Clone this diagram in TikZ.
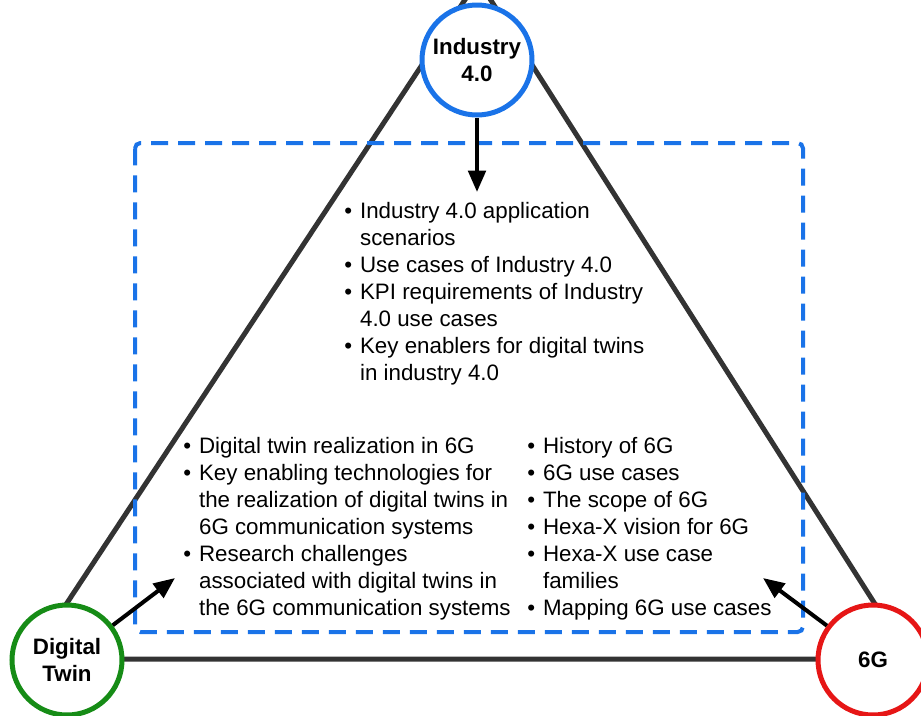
\documentclass[tikz,border=0pt]{standalone}
\usepackage{fontspec}
\setmainfont{Liberation Sans}
\usetikzlibrary{arrows.meta}

\definecolor{hubblue}{RGB}{26,115,232}
\definecolor{hubgreen}{RGB}{22,140,22}
\definecolor{hubred}{RGB}{230,22,22}
\definecolor{sidegray}{RGB}{51,51,51}
\newcommand{\topicfont}{\fontsize{16.75}{20.25}\selectfont}

\begin{document}
\begin{tikzpicture}[x=0.75pt, y=-0.75pt,
    hub/.style={circle, draw, line width=3.75pt, fill=white, text=black,
      minimum size=82.5pt, inner sep=0pt, align=center, font=\bfseries\topicfont},
    side/.style={draw=sidegray, line width=3.75pt},
    link/.style={line width=3pt, -{Triangle[length=16pt, width=13pt]}},
    topics/.style={anchor=base west, inner sep=0pt, font=\topicfont}]
    \useasboundingbox (0,0) rectangle (921,715);

    % Triangle corners (hidden behind the circles)
    \coordinate (apex) at (478,-20);
    \coordinate (cornerL) at (30,659);
    \coordinate (cornerR) at (910,659);
    \draw[side] (apex) -- (cornerL) -- (cornerR) -- cycle;

    % Dashed frame
    \draw[hubblue, line width=3pt, dash pattern=on 12.75pt off 7.5pt, rounded corners=4pt]
        (135,143) rectangle (803,632);

    % Define vertices
    \node[hub, draw=hubblue] (ind) at (477,60) {Industry\\4.0};
    \node[hub, draw=hubgreen] (dt) at (67,660) {Digital\\Twin};
    \node[hub, draw=hubred] (sixg) at (873,660) {6G};

    % Draw arrows into the frame
    \coordinate (tipI) at (477,192);
    \coordinate (tipD) at (175,578);
    \coordinate (tipS) at (763,578);
    \draw[link] (ind) -- (tipI);
    \draw[link] (dt) -- (tipD);
    \draw[link] (sixg) -- (tipS);

    % Topic lists
    \node[topics] (indlist) at (344,218) {\begin{tabular}[t]{@{}l@{\hspace{6pt}}l@{}}
        \textbullet & Industry 4.0 application\\
                    & scenarios\\
        \textbullet & Use cases of Industry 4.0\\
        \textbullet & KPI requirements of Industry\\
                    & 4.0 use cases\\
        \textbullet & Key enablers for digital twins\\
                    & in industry 4.0
      \end{tabular}};
    \node[topics] (dtlist) at (183,453) {\begin{tabular}[t]{@{}l@{\hspace{6pt}}l@{}}
        \textbullet & Digital twin realization in 6G\\
        \textbullet & Key enabling technologies for\\
                    & the realization of digital twins in\\
                    & 6G communication systems\\
        \textbullet & Research challenges\\
                    & associated with digital twins in\\
                    & the 6G communication systems
      \end{tabular}};
    \node[topics] (sixglist) at (527,453) {\begin{tabular}[t]{@{}l@{\hspace{6pt}}l@{}}
        \textbullet & History of 6G\\
        \textbullet & 6G use cases\\
        \textbullet & The scope of 6G\\
        \textbullet & Hexa-X vision for 6G\\
        \textbullet & Hexa-X use case\\
                    & families\\
        \textbullet & Mapping 6G use cases
      \end{tabular}};
\end{tikzpicture}
\end{document}
